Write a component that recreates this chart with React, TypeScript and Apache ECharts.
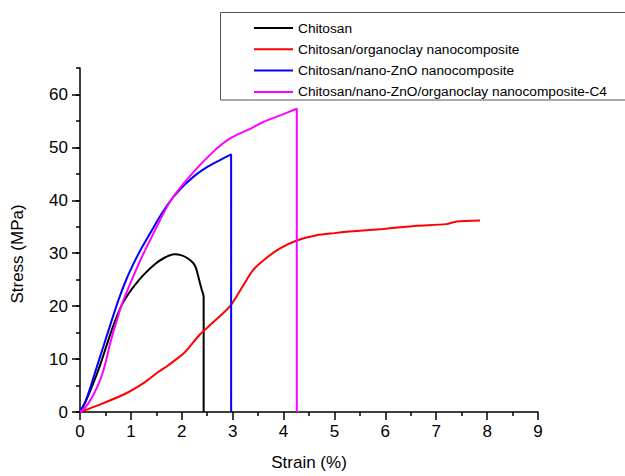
import React, { useEffect, useRef } from "react";
import * as echarts from "echarts";

const seriesNames = [
  "Chitosan",
  "Chitosan/organoclay nanocomposite",
  "Chitosan/nano-ZnO nanocomposite",
  "Chitosan/nano-ZnO/organoclay nanocomposite-C4",
];
const seriesColors = ["#000000", "#ff0000", "#0000ff", "#ff00ff"];

const chitosanX = [0, 0.1, 0.2, 0.3, 0.4, 0.52, 0.65, 0.81, 0.95, 1.07, 1.25, 1.47, 1.65, 1.85, 2.0, 2.12, 2.22, 2.28, 2.34, 2.39, 2.43, 2.43];
const chitosanY = [0, 1.8, 4.0, 6.4, 9.0, 12.5, 16.2, 20.0, 22.3, 23.9, 25.9, 27.9, 29.1, 29.8, 29.6, 29.0, 28.2, 27.2, 25.0, 23.2, 21.8, 0];

const organoclayX = [0, 0.35, 0.88, 1.27, 1.53, 1.73, 2.06, 2.36, 2.6, 2.95, 3.2, 3.4, 3.65, 3.93, 4.26, 4.65, 5.0, 5.3, 5.96, 6.3, 6.61, 7.2, 7.4, 7.86];
const organoclayY = [0, 1.25, 3.4, 5.6, 7.5, 8.8, 11.3, 14.7, 16.8, 20.0, 23.8, 26.8, 29.0, 30.9, 32.4, 33.4, 33.8, 34.1, 34.6, 34.9, 35.2, 35.5, 36.0, 36.2];

const znoX = [0, 0.1, 0.2, 0.3, 0.4, 0.5, 0.6, 0.75, 0.9, 1.04, 1.2, 1.41, 1.6, 1.8, 2.0, 2.13, 2.3, 2.52, 2.75, 2.97, 2.97];
const znoY = [0, 1.8, 4.5, 7.6, 10.6, 13.6, 16.6, 21.0, 24.8, 27.8, 30.8, 34.3, 37.4, 40.2, 42.4, 43.6, 45.0, 46.4, 47.6, 48.7, 0];

const c4X = [0, 0.1, 0.22, 0.35, 0.45, 0.52, 0.58, 0.65, 0.73, 0.81, 0.95, 1.1, 1.25, 1.41, 1.6, 1.8, 2.19, 2.62, 2.95, 3.3, 3.6, 3.95, 4.26, 4.26];
const c4Y = [0, 0.8, 2.5, 5.0, 7.5, 10.0, 12.5, 15.0, 17.5, 20.0, 23.4, 26.8, 30.0, 33.1, 36.8, 40.2, 44.9, 49.2, 51.7, 53.3, 54.8, 56.1, 57.3, 0];

const xTicks = [0, 1, 2, 3, 4, 5, 6, 7, 8, 9];
const yMajorTicks = [0, 10, 20, 30, 40, 50, 60];

const pair = (xs: number[], ys: number[]) => xs.map((x, i) => [x, ys[i]]);

const FONT = 'Arial, "Liberation Sans", sans-serif';

export default function App() {
  const ref = useRef<HTMLDivElement>(null);
  useEffect(() => {
    if (!ref.current) return;
    const chart = echarts.init(ref.current, undefined, { renderer: "svg" });
    const datas = [
      pair(chitosanX, chitosanY),
      pair(organoclayX, organoclayY),
      pair(znoX, znoY),
      pair(c4X, c4Y),
    ];
    chart.setOption({
      animation: false,
      backgroundColor: "#ffffff",
      textStyle: { fontFamily: FONT },
      grid: { left: 80, right: 87, top: 68, bottom: 59.3, containLabel: false },
      legend: {
        left: 253,
        top: 21,
        orient: "vertical",
        itemWidth: 39,
        itemHeight: 14,
        itemGap: 7.3,
        padding: 0,
        itemStyle: { opacity: 0 },
        textStyle: { fontFamily: FONT, fontSize: 13.7, color: "#000" },
        data: seriesNames,
      },
      graphic: [
        {
          type: "rect",
          shape: { x: 220.5, y: 12.5, width: 410, height: 87.5 },
          style: { fill: "none", stroke: "#555", lineWidth: 1 },
          silent: true,
          z: 0,
        },
        {
          type: "text",
          x: 17,
          y: 254,
          rotation: Math.PI / 2,
          style: {
            text: "Stress (MPa)",
            fontFamily: FONT,
            fontSize: 17,
            fill: "#000",
            align: "center",
            verticalAlign: "middle",
          },
        },
      ],
      xAxis: {
        type: "value",
        min: 0,
        max: 9,
        interval: 1,
        name: "Strain (%)",
        nameLocation: "middle",
        nameGap: 42,
        nameTextStyle: { fontFamily: FONT, fontSize: 17, color: "#000" },
        axisLine: { show: true, onZero: false, lineStyle: { color: "#000", width: 1.5 } },
        axisTick: { show: true, inside: false, length: 8, lineStyle: { color: "#000", width: 1.5 } },
        minorTick: { show: true, splitNumber: 2, length: 4, lineStyle: { color: "#000", width: 1.5 } },
        axisLabel: {
          fontFamily: FONT,
          fontSize: 17,
          color: "#000",
          margin: 11,
          formatter: (v: number) => (xTicks.includes(v) ? String(v) : ""),
        },
        splitLine: { show: false },
      },
      yAxis: [
        {
          type: "value",
          min: 0,
          max: 65,
          interval: 5,
          axisLine: { show: true, onZero: false, lineStyle: { color: "#000", width: 1.5 } },
          axisTick: { show: true, inside: false, length: 4, lineStyle: { color: "#000", width: 1.5 } },
          axisLabel: { show: false },
          splitLine: { show: false },
        },
        {
          type: "value",
          min: 0,
          max: 65,
          interval: 10,
          position: "left",
          offset: 0,
          axisLine: { show: false },
          axisTick: {
            show: true,
            inside: false,
            length: 8,
            customValues: yMajorTicks,
            lineStyle: { color: "#000", width: 1.5 },
          },
          axisLabel: {
            fontFamily: FONT,
            fontSize: 17,
            color: "#000",
            margin: 12,
            customValues: yMajorTicks,
          },
          splitLine: { show: false },
        },
      ],
      series: seriesNames.map((name, i) => ({
        name,
        type: "line",
        data: datas[i],
        yAxisIndex: 0,
        symbol: "none",
        smooth: 0.25,
        lineStyle: { color: seriesColors[i], width: 2 },
        itemStyle: { color: seriesColors[i] },
      })),
    });
    return () => chart.dispose();
  }, []);
  return (
    <div
      ref={ref}
      style={{ position: "fixed", left: 0, top: 0, width: 625, height: 476, background: "#fff" }}
    />
  );
}
